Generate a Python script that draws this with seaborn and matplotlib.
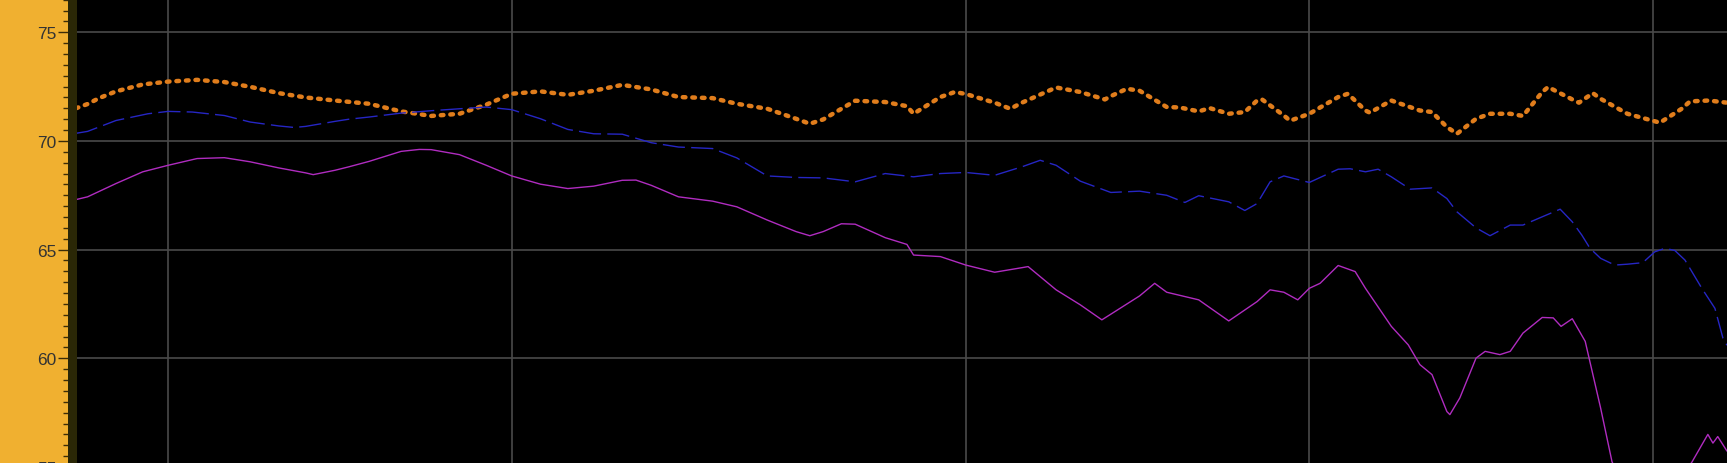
import numpy as np
import pandas as pd
import matplotlib
matplotlib.use("Agg")
import matplotlib.pyplot as plt
from matplotlib.patches import Rectangle
from matplotlib.ticker import FixedLocator, MultipleLocator, NullFormatter
import seaborn as sns

# ---------------- data (Hz, dB) ----------------
orange_freq = [83, 85, 87, 90, 95, 100, 106, 112, 118, 125, 132, 140, 150, 160, 170,
               180, 190, 200, 212, 224, 236, 250, 265, 280, 300, 315, 335, 355, 365,
               375, 400, 425, 444, 450, 475, 489, 500, 530, 547, 560, 600, 630, 662,
               670, 692, 710, 750, 770, 800, 818, 850, 878, 900, 909, 950, 962, 1000,
               1060, 1081, 1120, 1130, 1180, 1250, 1281, 1320, 1347, 1400, 1440, 1500,
               1539, 1600, 1619, 1700, 1723, 1772, 1800, 1900, 2000, 2029, 2120, 2156,
               2240, 2323]
orange_db = [71.50, 71.70, 71.97, 72.28, 72.60, 72.73, 72.81, 72.71, 72.49, 72.20, 72.00,
             71.86, 71.71, 71.36, 71.15, 71.25, 71.67, 72.17, 72.28, 72.12, 72.31, 72.58,
             72.37, 72.02, 71.97, 71.71, 71.48, 71.02, 70.79, 70.99, 71.85, 71.79, 71.60,
             71.25, 72.02, 72.25, 72.16, 71.76, 71.48, 71.76, 72.46, 72.25, 71.91, 72.06,
             72.40, 72.31, 71.56, 71.54, 71.36, 71.51, 71.25, 71.33, 71.86, 71.91, 71.17,
             70.93, 71.25, 72.02, 72.17, 71.40, 71.30, 71.86, 71.40, 71.33, 70.64, 70.33,
             71.02, 71.25, 71.25, 71.15, 72.25, 72.48, 71.91, 71.76, 72.20, 71.94, 71.25,
             70.93, 70.84, 71.48, 71.82, 71.86, 71.76]

blue_freq = [83, 85, 90, 96, 100, 105, 112, 118, 125, 129, 132, 140, 144, 150, 160, 170,
             180, 190, 200, 212, 224, 236, 250, 265, 280, 300, 315, 335, 355, 375, 400,
             425, 450, 475, 500, 530, 560, 581, 600, 630, 670, 710, 750, 778, 800, 850,
             878, 900, 924, 950, 1000, 1060, 1086, 1120, 1149, 1180, 1226, 1281, 1320,
             1347, 1400, 1440, 1500, 1539, 1600, 1659, 1700, 1733, 1762, 1800, 1852,
             1900, 1960, 2008, 2050, 2091, 2134, 2208, 2267, 2304, 2323]
blue_db = [70.35, 70.44, 70.94, 71.25, 71.36, 71.33, 71.17, 70.87, 70.69, 70.62, 70.67,
           70.90, 71.00, 71.10, 71.28, 71.39, 71.48, 71.56, 71.44, 71.02, 70.53, 70.33,
           70.31, 69.92, 69.72, 69.65, 69.22, 68.39, 68.32, 68.30, 68.12, 68.50, 68.35,
           68.50, 68.55, 68.42, 68.81, 69.11, 68.88, 68.15, 67.63, 67.69, 67.50, 67.17,
           67.48, 67.20, 66.80, 67.12, 68.12, 68.39, 68.09, 68.70, 68.72, 68.58, 68.70,
           68.35, 67.78, 67.84, 67.35, 66.74, 66.00, 65.64, 66.13, 66.13, 66.51, 66.86,
           66.28, 65.67, 65.06, 64.60, 64.29, 64.33, 64.40, 64.90, 65.06, 64.96, 64.52,
           63.22, 62.30, 60.93, 60.60]

magenta_freq = [83, 85, 90, 95, 100, 106, 112, 118, 125, 132, 134, 140, 144, 150, 160,
                166, 170, 180, 190, 200, 212, 224, 236, 250, 257, 265, 280, 300, 315, 335,
                355, 365, 375, 389, 400, 425, 444, 450, 475, 500, 530, 560, 567, 600, 630,
                658, 670, 710, 732, 750, 800, 850, 900, 924, 950, 977, 1000, 1022, 1060,
                1097, 1120, 1180, 1221, 1250, 1281, 1320, 1328, 1355, 1400, 1426, 1469,
                1500, 1539, 1600, 1636, 1662, 1700, 1745, 1800, 1842, 1900, 2000, 2100,
                2165, 2235, 2258, 2280, 2323]
magenta_db = [67.30, 67.43, 68.04, 68.58, 68.88, 69.19, 69.23, 69.04, 68.76, 68.53, 68.45,
              68.65, 68.81, 69.06, 69.52, 69.61, 69.60, 69.37, 68.88, 68.39, 68.01, 67.81,
              67.92, 68.19, 68.20, 67.96, 67.43, 67.23, 66.97, 66.36, 65.83, 65.64, 65.83,
              66.19, 66.17, 65.55, 65.24, 64.75, 64.68, 64.29, 63.96, 64.17, 64.22, 63.15,
              62.46, 61.77, 62.03, 62.87, 63.45, 63.04, 62.69, 61.72, 62.61, 63.15, 63.04,
              62.69, 63.22, 63.45, 64.27, 63.99, 63.22, 61.47, 60.62, 59.71, 59.25, 57.55,
              57.41, 58.18, 60.01, 60.32, 60.17, 60.32, 61.16, 61.88, 61.86, 61.47, 61.82,
              60.78, 57.72, 55.24, 53.80, 53.20, 54.20, 55.24, 56.50, 56.10, 56.40, 55.73]

x_grid = [100, 200, 500, 1000, 2000]
y_ticks = [55, 60, 65, 70, 75]

# ---------------- style ----------------
STRIP = "#F0B030"
sns.set_theme(style="dark", rc={
    "axes.facecolor": "black",
    "figure.facecolor": STRIP,
    "axes.grid": True,
    "grid.color": "#4a4a4a",
    "grid.linewidth": 1.2,
})
plt.rcParams["font.family"] = ["Liberation Sans", "DejaVu Sans"]

W, H = 1727, 464
fig = plt.figure(figsize=(W / 100, H / 100), dpi=100)
left_px = 68
ax = fig.add_axes([left_px / W, -4 / H, 1 - left_px / W, 468 / H])

sns.lineplot(x=orange_freq, y=orange_db, ax=ax, color="#E07D1C", linewidth=3.2,
             linestyle=(0, (0.6, 1.55)), dash_capstyle="round", solid_joinstyle="round",
             estimator=None, zorder=3)
sns.lineplot(x=blue_freq, y=blue_db, ax=ax, color="#2626C4", linewidth=1.0,
             linestyle=(0, (16, 4.5)), estimator=None, zorder=3)
sns.lineplot(x=magenta_freq, y=magenta_db, ax=ax, color="#B02CC0", linewidth=1.0,
             solid_joinstyle="round", estimator=None, zorder=3)

ax.set_xscale("log")
ax.set_xlim(81.7, 2323)
ax.set_ylim(55, 76.53)

ax.xaxis.set_major_locator(FixedLocator(x_grid))
ax.xaxis.set_minor_locator(FixedLocator([]))
ax.xaxis.set_major_formatter(NullFormatter())
ax.xaxis.set_minor_formatter(NullFormatter())
ax.tick_params(axis="x", which="both", length=0)

ax.yaxis.set_major_locator(FixedLocator(y_ticks))
ax.yaxis.set_minor_locator(MultipleLocator(0.5))
ax.tick_params(axis="y", which="major", direction="out", length=7.2, width=1.0,
               color="#3a2c08", labelsize=12.5, labelcolor="#333333", pad=1.0, left=True)
ax.tick_params(axis="y", which="minor", direction="out", length=3.6, width=1.0,
               color="#3a2c08", left=True)
ax.grid(True, which="major", axis="both", color="#4a4a4a", linewidth=1.2)
ax.grid(False, which="minor")
ax.set_xlabel("")
ax.set_ylabel("")
for s in ax.spines.values():
    s.set_visible(False)

# dark strip at the left edge of the plotting area
ax_w_px = W - left_px
ax.add_patch(Rectangle((0, 0), 9 / ax_w_px, 1, transform=ax.transAxes,
                       facecolor="#2A2706", edgecolor="none", zorder=5, clip_on=False))

fig.savefig("out.png", dpi=100, facecolor=STRIP)
